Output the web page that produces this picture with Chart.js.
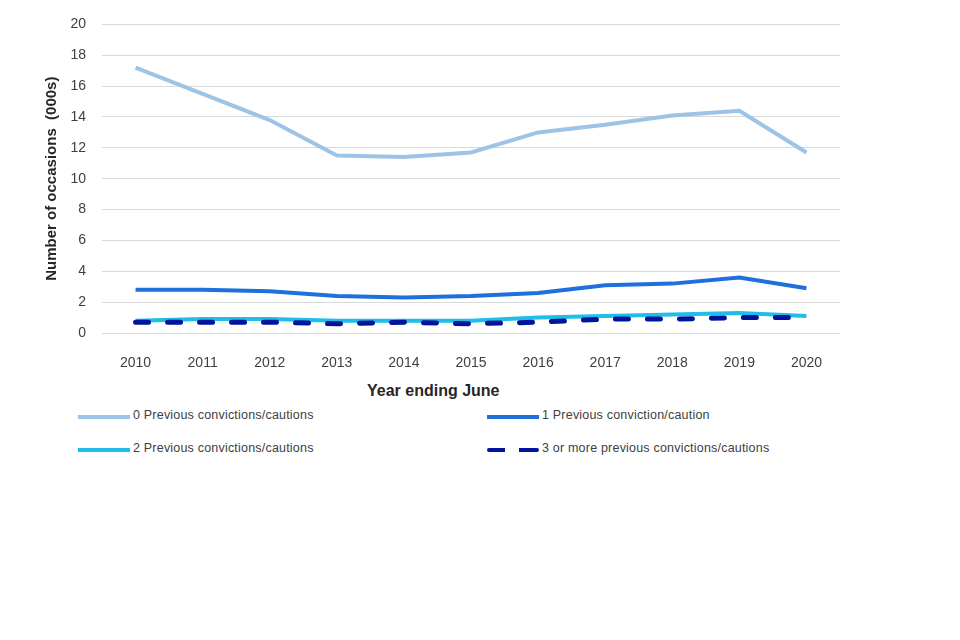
<!DOCTYPE html>
<html>
<head>
<meta charset="utf-8">
<script src="https://cdn.jsdelivr.net/npm/chart.js@4"></script>
<style>
  body { margin: 0; background: #fff; }
  #wrap { position: relative; width: 960px; height: 640px; }
  #chartBox { position: absolute; left: 0; top: 0; width: 960px; height: 380px; }
  .xtitle { position: absolute; top: 382px; left: 367px; font: bold 16px 'Liberation Sans', sans-serif; color: #262626; }
  .leg { position: absolute; font: 12.5px 'Liberation Sans', sans-serif; letter-spacing: 0.2px; color: #404040; white-space: nowrap; }
  .leg span.sw { position: absolute; left: 0; top: 7px; width: 52px; height: 0; border-top: 4px solid; }
  .leg span.tx { position: absolute; left: 55px; top: 0; }
</style>
</head>
<body>
<div id="wrap">
  <div id="chartBox"><canvas id="chart"></canvas></div>
  <div class="xtitle">Year ending June</div>
  <div id="legend"></div>
</div>
<script>
// Year ending June
const years = ['2010', '2011', '2012', '2013', '2014', '2015', '2016', '2017', '2018', '2019', '2020'];

// number of occasions (000s)
const prev0 = [17.2, 15.5, 13.8, 11.5, 11.4, 11.7, 13.0, 13.5, 14.1, 14.4, 11.7];
const prev1 = [2.8, 2.8, 2.7, 2.4, 2.3, 2.4, 2.6, 3.1, 3.2, 3.6, 2.9];
const prev2 = [0.8, 0.9, 0.9, 0.8, 0.8, 0.8, 1.0, 1.1, 1.2, 1.3, 1.1];
const prev3 = [0.7, 0.7, 0.7, 0.6, 0.7, 0.6, 0.7, 0.9, 0.9, 1.0, 1.0];

const seriesLabels = [
  '0 Previous convictions/cautions',
  '1 Previous conviction/caution',
  '2 Previous convictions/cautions',
  '3 or more previous convictions/cautions'
];
const colors = ['#9dc3e6', '#1f6fdc', '#1fbde9', '#00139b'];

const datasets = [prev0, prev1, prev2, prev3].map((vals, i) => ({
  label: seriesLabels[i],
  data: vals,
  borderColor: colors[i],
  backgroundColor: colors[i],
  borderWidth: i === 3 ? 5 : 4,
  borderDash: i === 3 ? [13, 19] : [],
  borderCapStyle: i === 3 ? 'round' : 'butt',
  pointRadius: 0,
  tension: 0,
  order: 3 - i
}));

new Chart(document.getElementById('chart'), {
  type: 'line',
  data: { labels: years, datasets },
  options: {
    responsive: true,
    maintainAspectRatio: false,
    animation: false,
    layout: { padding: { left: 0, right: 120, top: 15, bottom: 0 } },
    plugins: { legend: { display: false }, tooltip: { enabled: false } },
    scales: {
      x: {
        offset: true,
        grid: { display: false },
        border: { display: false },
        ticks: { color: '#404040', font: { family: 'Liberation Sans', size: 14 }, padding: 14 },
        afterFit: (s) => { s.height = 47; }
      },
      y: {
        min: 0,
        max: 20,
        ticks: { stepSize: 2, color: '#404040', font: { family: 'Liberation Sans', size: 14 }, padding: 16 },
        grid: { color: '#d9d9d9', lineWidth: 1, drawTicks: false },
        border: { display: false },
        title: {
          display: true,
          text: 'Number of occasions  (000s)',
          color: '#262626',
          font: { family: 'Liberation Sans', size: 15, weight: 'bold' },
          padding: { top: 43, bottom: 0 }
        },
        afterFit: (s) => { s.width = 102; }
      }
    }
  }
});

// legend in two columns, drawn as html
const legPos = [[78, 408], [487, 408], [78, 441], [487, 441]];
const legend = document.getElementById('legend');
seriesLabels.forEach((lab, i) => {
  const d = document.createElement('div');
  d.className = 'leg';
  d.style.left = legPos[i][0] + 'px';
  d.style.top = legPos[i][1] + 'px';
  const sw = document.createElement('span');
  sw.className = 'sw';
  sw.style.borderColor = colors[i];
  if (i === 3) {
    sw.style.borderTop = 'none';
    sw.style.height = '4px';
    sw.style.top = '7px';
    sw.style.borderRadius = '2px';
    sw.style.background = `linear-gradient(90deg, ${colors[i]} 0 18px, transparent 18px 32px, ${colors[i]} 32px 52px)`;
  }
  const tx = document.createElement('span');
  tx.className = 'tx';
  tx.textContent = lab;
  d.appendChild(sw);
  d.appendChild(tx);
  legend.appendChild(d);
});
</script>
</body>
</html>
